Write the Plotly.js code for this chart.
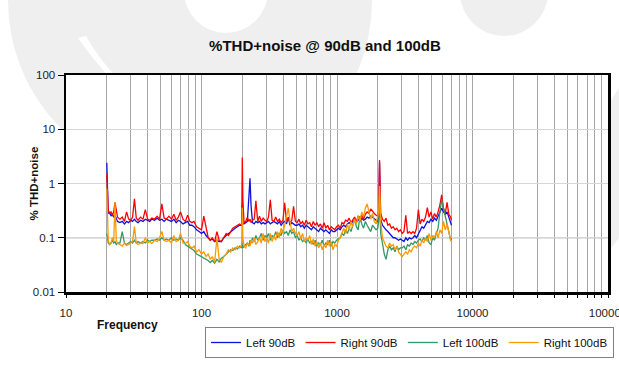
<!DOCTYPE html>
<html>
<head>
<meta charset="utf-8">
<script src="https://cdn.plot.ly/plotly-3.0.1.min.js"></script>
<style>html,body{margin:0;padding:0;background:#fff;}#chart{width:619px;height:384px;}</style>
</head>
<body>
<div id="chart"></div>
<script>
// Frequencies (Hz)
const freq = [
 20, 20.5, 21, 21.5, 22, 22.5, 23, 23.5, 24,
 25, 26, 27, 28, 29, 30, 31, 32, 33, 34, 35.5,
 37, 38.5, 40, 41.5, 43, 45, 47, 49, 51, 53, 55, 57.5,
 60, 62.5, 65, 67.5, 70, 73, 76, 79, 82, 85, 88, 92, 96,
 100, 104, 108, 112, 116, 120, 125, 130, 135, 140, 146, 152, 158, 164, 170, 177, 184, 191, 198,
 200, 202, 206, 212, 218, 224, 228, 232, 238, 245, 252, 260, 268, 276, 285, 294,
 303, 312, 322, 332, 342, 353, 364, 375, 387, 399, 411, 424, 437, 450, 464, 478, 493,
 508, 524, 540, 557, 574, 592, 610, 629, 648, 668, 689, 710, 732, 755, 778, 802, 827, 853, 879, 906, 934, 963, 993,
 1024, 1056, 1089, 1122, 1157, 1193, 1230, 1268, 1307, 1348, 1390, 1433, 1477, 1523, 1570, 1619, 1669, 1721, 1774, 1829, 1886, 1944,
 2000, 2030, 2060, 2100, 2165, 2232, 2301, 2372, 2446, 2522, 2600, 2680, 2763, 2849, 2937,
 3028, 3122, 3219, 3318, 3421, 3527, 3636, 3749, 3865, 3985,
 4108, 4235, 4366, 4502, 4641, 4785, 4933, 5086, 5243, 5406, 5573, 5746, 5924, 6107, 6296, 6491, 6692, 6900, 7000
];

// % THD+noise, Left channel @ 90dB
const left90 = [
 2.4, 0.28, 0.3, 0.25, 0.27, 0.24, 0.26, 0.22, 0.2,
 0.19, 0.2, 0.18, 0.2, 0.19, 0.21, 0.2, 0.22, 0.2, 0.19, 0.21,
 0.2, 0.22, 0.21, 0.2, 0.22, 0.21, 0.23, 0.21, 0.22, 0.2, 0.22, 0.21,
 0.2, 0.22, 0.19, 0.21, 0.2, 0.18, 0.19, 0.2, 0.17, 0.17, 0.16, 0.14, 0.13,
 0.12, 0.13, 0.11, 0.1, 0.09, 0.095, 0.085, 0.09, 0.085, 0.085, 0.1, 0.11, 0.12, 0.13, 0.14, 0.15, 0.16, 0.17, 0.17,
 0.4, 0.18, 0.18, 0.19, 0.2, 0.6, 1.25, 0.4, 0.19, 0.18, 0.2, 0.19, 0.2, 0.18, 0.19, 0.18,
 0.19, 0.2, 0.18, 0.19, 0.2, 0.19, 0.18, 0.2, 0.17, 0.19, 0.2, 0.18, 0.24, 0.17, 0.19, 0.18, 0.17,
 0.17, 0.18, 0.16, 0.17, 0.15, 0.17, 0.16, 0.15, 0.14, 0.16, 0.15, 0.14, 0.13, 0.15, 0.14, 0.13, 0.14, 0.13, 0.12, 0.14, 0.13, 0.13, 0.14,
 0.15, 0.14, 0.16, 0.17, 0.16, 0.18, 0.19, 0.18, 0.2, 0.21, 0.19, 0.22, 0.2, 0.23, 0.21, 0.22, 0.24, 0.23, 0.25, 0.24, 0.22, 0.21,
 0.2, 0.24, 2.5, 0.22, 0.17, 0.15, 0.14, 0.13, 0.12, 0.11, 0.1, 0.1, 0.095, 0.09, 0.095,
 0.09, 0.085, 0.1, 0.09, 0.1, 0.095, 0.1, 0.11, 0.1, 0.12,
 0.14, 0.16, 0.15, 0.18, 0.2, 0.19, 0.22, 0.2, 0.23, 0.21, 0.25, 0.28, 0.35, 0.3, 0.27, 0.3, 0.24, 0.2, 0.17
];

// % THD+noise, Right channel @ 90dB
const right90 = [
 1.5, 0.32, 0.28, 0.3, 0.26, 0.3, 0.45, 0.3, 0.24,
 0.22, 0.24, 0.2, 0.3, 0.22, 0.21, 0.24, 0.52, 0.23, 0.21, 0.24,
 0.22, 0.33, 0.22, 0.21, 0.23, 0.22, 0.25, 0.22, 0.42, 0.23, 0.22, 0.25,
 0.22, 0.27, 0.21, 0.24, 0.3, 0.22, 0.2, 0.26, 0.2, 0.19, 0.2, 0.16, 0.15,
 0.14, 0.25, 0.15, 0.1, 0.09, 0.1, 0.085, 0.13, 0.09, 0.085, 0.1, 0.12, 0.11, 0.13, 0.15, 0.16, 0.17, 0.18, 0.17,
 3.0, 0.5, 0.19, 0.2, 0.24, 0.2, 0.22, 0.19, 0.21, 0.22, 0.48, 0.2, 0.25, 0.2, 0.23, 0.21,
 0.2, 0.24, 0.5, 0.21, 0.2, 0.24, 0.2, 0.22, 0.19, 0.21, 0.44, 0.2, 0.23, 0.19, 0.21, 0.38, 0.2,
 0.19, 0.22, 0.18, 0.2, 0.17, 0.21, 0.18, 0.19, 0.16, 0.2, 0.17, 0.19, 0.16, 0.18, 0.15, 0.19, 0.15, 0.17, 0.14, 0.16, 0.15, 0.14, 0.16,
 0.17, 0.15, 0.19, 0.18, 0.21, 0.2, 0.23, 0.19, 0.22, 0.24, 0.2, 0.25, 0.23, 0.26, 0.22, 0.27, 0.3, 0.28, 0.34, 0.3, 0.28, 0.26,
 0.25, 0.3, 2.7, 0.28, 0.22, 0.2, 0.23, 0.17, 0.18, 0.15, 0.16, 0.14, 0.15, 0.13, 0.14,
 0.12, 0.13, 0.26, 0.12, 0.13, 0.12, 0.13, 0.12, 0.15, 0.33,
 0.18, 0.22, 0.2, 0.24, 0.36, 0.24, 0.3, 0.22, 0.28, 0.24, 0.3, 0.4, 0.62, 0.35, 0.28, 0.45, 0.27, 0.24, 0.21
];

// % THD+noise, Left channel @ 100dB
const left100 = [
 0.12, 0.08, 0.075, 0.08, 0.09, 0.08, 0.085, 0.075, 0.08,
 0.08, 0.13, 0.08, 0.075, 0.08, 0.085, 0.08, 0.09, 0.08, 0.085, 0.08,
 0.085, 0.08, 0.09, 0.085, 0.09, 0.09, 0.095, 0.09, 0.1, 0.09, 0.095, 0.09,
 0.1, 0.09, 0.095, 0.09, 0.1, 0.09, 0.075, 0.07, 0.065, 0.06, 0.058, 0.05, 0.048,
 0.045, 0.042, 0.04, 0.038, 0.035, 0.038, 0.034, 0.04, 0.036, 0.042, 0.045, 0.05, 0.055, 0.06, 0.058, 0.065, 0.062, 0.07, 0.065,
 0.08, 0.065, 0.07, 0.075, 0.08, 0.07, 0.09, 0.08, 0.1, 0.085, 0.11, 0.09, 0.1, 0.12, 0.09, 0.11,
 0.1, 0.12, 0.09, 0.11, 0.1, 0.13, 0.1, 0.12, 0.11, 0.14, 0.12, 0.13, 0.11, 0.14, 0.12, 0.13, 0.1,
 0.11, 0.09, 0.1, 0.085, 0.09, 0.08, 0.095, 0.08, 0.085, 0.075, 0.09, 0.07, 0.08, 0.075, 0.09, 0.07, 0.08, 0.075, 0.09, 0.07, 0.085, 0.08, 0.09,
 0.095, 0.1, 0.12, 0.11, 0.14, 0.12, 0.15, 0.13, 0.17, 0.22, 0.16, 0.14, 0.25, 0.18, 0.15, 0.2, 0.17, 0.15, 0.13, 0.17, 0.15, 0.14,
 0.15, 0.2, 0.6, 0.12, 0.08, 0.05, 0.04, 0.06, 0.07, 0.06, 0.065, 0.055, 0.07, 0.06, 0.065,
 0.065, 0.07, 0.06, 0.075, 0.07, 0.08, 0.075, 0.085, 0.08, 0.09,
 0.095, 0.085, 0.1, 0.09, 0.11, 0.08, 0.075, 0.1, 0.09, 0.12, 0.15, 0.3, 0.5, 0.35, 0.25, 0.18, 0.12, 0.09, 0.1
];

// % THD+noise, Right channel @ 100dB
const right100 = [
 0.8, 0.09, 0.075, 0.08, 0.1, 0.085, 0.45, 0.09, 0.08,
 0.075, 0.07, 0.08, 0.072, 0.075, 0.08, 0.085, 0.16, 0.08, 0.075, 0.08,
 0.078, 0.1, 0.08, 0.085, 0.078, 0.09, 0.085, 0.1, 0.13, 0.09, 0.085, 0.09,
 0.08, 0.11, 0.085, 0.09, 0.12, 0.08, 0.078, 0.085, 0.07, 0.065, 0.07, 0.055, 0.06,
 0.05, 0.055, 0.045, 0.05, 0.04, 0.045, 0.035, 0.1, 0.04, 0.035, 0.045, 0.05, 0.06, 0.055, 0.065, 0.06, 0.07, 0.065, 0.075,
 0.36, 0.1, 0.07, 0.065, 0.08, 0.075, 0.07, 0.09, 0.08, 0.1, 0.075, 0.085, 0.1, 0.08, 0.12, 0.085,
 0.1, 0.08, 0.12, 0.085, 0.11, 0.09, 0.13, 0.1, 0.15, 0.12, 0.17, 0.22, 0.35, 0.2, 0.13, 0.15, 0.12,
 0.11, 0.13, 0.095, 0.12, 0.085, 0.1, 0.09, 0.11, 0.075, 0.095, 0.07, 0.085, 0.065, 0.08, 0.06, 0.075, 0.065, 0.09, 0.07, 0.085, 0.06, 0.075, 0.07,
 0.09, 0.1, 0.12, 0.15, 0.12, 0.18, 0.14, 0.2, 0.16, 0.22, 0.18, 0.25, 0.2, 0.3, 0.24, 0.35, 0.42, 0.3, 0.22, 0.28, 0.2, 0.18,
 0.25, 0.3, 0.9, 0.2, 0.1, 0.08, 0.07, 0.065, 0.08, 0.07, 0.075, 0.06, 0.07, 0.055, 0.05,
 0.045, 0.05, 0.055, 0.05, 0.06, 0.055, 0.065, 0.07, 0.065, 0.08,
 0.07, 0.09, 0.08, 0.1, 0.085, 0.12, 0.09, 0.11, 0.1, 0.13, 0.1, 0.14, 0.12, 0.2, 0.14, 0.18, 0.12, 0.09, 0.085
];

const seriesNames = ['Left 90dB', 'Right 90dB', 'Left 100dB', 'Right 100dB'];
const xDecades = [10, 100, 1000, 10000, 100000];
const xTickLabels = ['10', '100', '1000', '10000', '100000'];
const yTickVals = [0.01, 0.1, 1, 10, 100];
const yTickLabels = ['0.01', '0.1', '1', '10', '100'];

// ---- build chart ----
const colors = ['#1010e0', '#ff0000', '#339966', '#ff9900'];
const ys = [left90, right90, left100, right100];
const traces = ys.map((y, i) => ({
  x: freq, y: y, name: seriesNames[i], type: 'scatter', mode: 'lines',
  line: {color: colors[i], width: 1.3}
}));

const xt = [], xtt = [];
xDecades.forEach((d, di) => {
  const maxM = (di === xDecades.length - 1) ? 1 : 9;
  for (let m = 1; m <= maxM; m++) {
    xt.push(d * m);
    xtt.push(m === 1 ? xTickLabels[di] : '');
  }
});

// pixel -> paper helpers (plot area: x 66..608, y 75..292)
const px = x => (x - 66) / 542;
const py = y => (292 - y) / 217;
const wm = '#efefef';
const shapes = [
  {type: 'circle', xref: 'paper', yref: 'paper', x0: px(8), x1: px(372), y0: py(182), y1: py(-182), fillcolor: wm, line: {width: 0}, layer: 'below'},
  {type: 'circle', xref: 'paper', yref: 'paper', x0: px(184), x1: px(268), y0: py(33), y1: py(-51), fillcolor: '#ffffff', line: {width: 0}, layer: 'below'},
  {type: 'circle', xref: 'paper', yref: 'paper', x0: px(460), x1: px(548), y0: py(36), y1: py(-52), fillcolor: wm, line: {width: 0}, layer: 'below'},
  {type: 'path', xref: 'paper', yref: 'paper',
   path: `M ${px(78)},${py(38)} Q ${px(92)},${py(58)} ${px(110)},${py(78)} L ${px(117)},${py(78)} Q ${px(97)},${py(56)} ${px(86)},${py(36)} Z`,
   fillcolor: '#ffffff', line: {width: 0}, layer: 'below'},
  {type: 'path', xref: 'paper', yref: 'paper',
   path: `M ${px(608)},${py(105)} L ${px(619)},${py(88)} L ${px(619)},${py(238)} L ${px(608)},${py(252)} Z`,
   fillcolor: wm, line: {width: 0}, layer: 'below'},
  {type: 'rect', xref: 'paper', yref: 'paper', x0: 0, x1: 1, y0: 0, y1: 1, fillcolor: '#ffffff', line: {width: 0}, layer: 'below'},
  {type: 'line', xref: 'paper', yref: 'y', x0: 0, x1: 1, y0: 0.1, y1: 0.1, line: {color: '#8c8c8c', width: 1}, layer: 'between'}
];

const layout = {
  width: 619, height: 384,
  margin: {l: 66, r: 11, t: 75, b: 92, pad: 0, autoexpand: false},
  paper_bgcolor: '#ffffff', plot_bgcolor: '#ffffff',
  font: {family: 'Liberation Sans, Arial, sans-serif', size: 11.5, color: '#222222'},
  title: {text: '<b>%THD+noise @ 90dB and 100dB</b>', font: {size: 15, color: '#111111'},
          x: 0.525, xref: 'container', xanchor: 'center', y: 0.88, yref: 'container', yanchor: 'middle'},
  xaxis: {type: 'log', range: [1, 5], tickmode: 'array', tickvals: xt, ticktext: xtt,
          showgrid: true, gridcolor: '#a6a6a6', gridwidth: 1, zeroline: false, automargin: false,
          showline: true, linecolor: '#000000', linewidth: 2.5, mirror: true,
          ticks: 'outside', ticklen: 3, tickwidth: 1, tickcolor: '#000000', ticklabelstandoff: 6,
          ticklabeloverflow: 'allow', fixedrange: true},
  yaxis: {type: 'log', range: [-2, 2], tickmode: 'array', tickvals: yTickVals, ticktext: yTickLabels,
          showgrid: true, gridcolor: '#d6d6d6', gridwidth: 1, zeroline: false, automargin: false,
          showline: true, linecolor: '#000000', linewidth: 2.5, mirror: true,
          ticks: 'outside', ticklen: 6, tickwidth: 1, tickcolor: '#000000', fixedrange: true},
  showlegend: true,
  legend: {orientation: 'h', xref: 'container', yref: 'container', x: 205 / 619, xanchor: 'left', y: 1 - 327 / 384, yanchor: 'top',
           bordercolor: '#808080', borderwidth: 1, bgcolor: '#ffffff',
           font: {size: 11.5, color: '#111111'}, itemwidth: 30, tracegroupgap: 0},
  annotations: [
    {text: '<b>Frequency</b>', xref: 'paper', yref: 'paper', x: px(127), y: py(325),
     xanchor: 'center', yanchor: 'middle', showarrow: false, font: {size: 12, color: '#111111'}},
    {text: '<b>% THD+noise</b>', xref: 'paper', yref: 'paper', x: px(33), y: 0.5,
     xanchor: 'center', yanchor: 'middle', textangle: -90, showarrow: false, font: {size: 11.5, color: '#111111'}}
  ],
  shapes: shapes
};

Plotly.newPlot('chart', traces, layout, {displayModeBar: false, staticPlot: true});
</script>
</body>
</html>
